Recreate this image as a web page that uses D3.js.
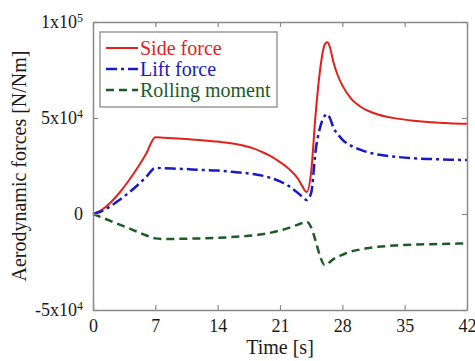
<!DOCTYPE html>
<html>
<head>
<meta charset="utf-8">
<script src="https://cdn.jsdelivr.net/npm/d3@7"></script>
<style>
  html, body { margin: 0; padding: 0; background: #fff; }
  svg { display: block; }
  svg text { font-family: "Times New Roman", "Liberation Serif", "DejaVu Serif", serif !important; }
</style>
</head>
<body>
<svg id="chart" width="475" height="361"></svg>
<script>
// Time samples [s]
const time = [0, 1, 2, 3, 4, 5, 6, 7, 8, 10, 12, 14, 16, 18, 19, 20, 21, 22, 23, 23.5, 24,
  24.5, 25, 25.5, 26, 26.3, 26.6, 27, 27.5, 28, 29, 30, 31, 32, 34, 36, 38, 40, 42];

// Side force [N]
const sideForce = [0, 2200, 6100, 11200, 17300, 24100, 31700, 40000, 39700, 39200, 38500, 37700,
  36500, 34200, 32300, 30000, 27000, 23500, 18500, 14500, 11500,
  22000, 52000, 75000, 88000, 89500, 87000, 79000, 72000, 67000, 60000, 56000, 53500, 51800,
  49800, 48600, 47800, 47300, 47000];

// Lift force [N]
const liftForce = [0, 1500, 4200, 7400, 11000, 15000, 19400, 24000, 23800, 23500, 23000, 22600,
  21800, 20800, 20000, 18700, 17000, 14500, 11000, 9000, 7300,
  11000, 33000, 45000, 51000, 52000, 50000, 45000, 41500, 38800, 35500, 33500, 32000, 31000,
  29800, 29000, 28600, 28300, 28100];

// Rolling moment [Nm]
const rollingMoment = [0, -1800, -3700, -5500, -7400, -9300, -11200, -12700, -13000, -12900, -12700,
  -12400, -11900, -11200, -10600, -9700, -8600, -7200, -5500, -4700, -4000,
  -7000, -14000, -22000, -26500, -26500, -25000, -23500, -22300, -21300, -19500, -18500, -17700,
  -17100, -16400, -16000, -15700, -15500, -15300];

const xTicks = [0, 7, 14, 21, 28, 35, 42];
const yTicks = [-50000, 0, 50000, 100000];
// Tick labels as [mantissa, exponent]
const yTickLabels = [["-5x10", "4"], ["0", ""], ["5x10", "4"], ["1x10", "5"]];

const seriesNames = ["Side force", "Lift force", "Rolling moment"];
const seriesValues = [sideForce, liftForce, rollingMoment];
const seriesColors = ["#e3201c", "#1818c8", "#1d5a26"];
const seriesDash = [null, "11,4,3,4", "8,5"];
const seriesWidth = [2, 2.5, 2.5];

const serif = "'Times New Roman', 'Liberation Serif', 'DejaVu Serif', serif";

const svg = d3.select("#chart").attr("font-family", serif);
const margin = { left: 93, right: 8, top: 22, bottom: 51 };
const W = 475, H = 361;
const x = d3.scaleLinear().domain([0, 42]).range([margin.left, W - margin.right]);
const y = d3.scaleLinear().domain([-50000, 100000]).range([H - margin.bottom, margin.top]);

const frameColor = "#8a8a8a";
const textColor = "#1a1a1a";

// Data lines
const line = d3.line()
  .x((d, i) => x(time[i]))
  .y(d => y(d))
  .curve(d3.curveMonotoneX);

seriesValues.forEach((vals, k) => {
  svg.append("path")
    .datum(vals)
    .attr("d", line)
    .attr("fill", "none")
    .attr("stroke", seriesColors[k])
    .attr("stroke-width", seriesWidth[k])
    .attr("stroke-dasharray", seriesDash[k])
    .attr("stroke-linejoin", "round");
});

// Axes: ticks point inward on all four sides
function styleAxis(g) {
  g.attr("font-family", serif).attr("font-size", 18);
  g.select(".domain").attr("stroke", frameColor).attr("stroke-width", 1.5);
  g.selectAll(".tick line").attr("stroke", frameColor).attr("stroke-width", 1.2);
  g.selectAll(".tick text").attr("fill", textColor);
}

svg.append("g")
  .attr("transform", `translate(0,${y(-50000)})`)
  .call(d3.axisBottom(x).tickValues(xTicks).tickSizeInner(-5).tickSizeOuter(0).tickPadding(9))
  .call(styleAxis);

svg.append("g")
  .attr("transform", `translate(0,${y(100000)})`)
  .call(d3.axisTop(x).tickValues(xTicks).tickSizeInner(-5).tickSizeOuter(0).tickFormat(""))
  .call(styleAxis);

const yAxis = svg.append("g")
  .attr("transform", `translate(${x(0)},0)`)
  .call(d3.axisLeft(y).tickValues(yTicks).tickSizeInner(-5).tickSizeOuter(0).tickPadding(10))
  .call(styleAxis);

// Scientific-notation tick labels with superscript exponents
yAxis.selectAll(".tick text").each(function(d) {
  const t = d3.select(this);
  const lab = yTickLabels[yTicks.indexOf(d)];
  t.text(null);
  t.append("tspan").text(lab[0]);
  if (lab[1]) {
    t.append("tspan").attr("font-size", 12).attr("dy", "-0.55em").text(lab[1]);
  }
});

svg.append("g")
  .attr("transform", `translate(${x(42)},0)`)
  .call(d3.axisRight(y).tickValues(yTicks).tickSizeInner(-5).tickSizeOuter(0).tickFormat(""))
  .call(styleAxis);

// Axis titles
svg.append("text")
  .attr("x", (x(0) + x(42)) / 2)
  .attr("y", 354)
  .attr("text-anchor", "middle")
  .attr("font-size", 20)
  .attr("fill", textColor)
  .text("Time [s]");

svg.append("text")
  .attr("transform", `translate(26,${(y(-50000) + y(100000)) / 2}) rotate(-90)`)
  .attr("text-anchor", "middle")
  .attr("font-size", 20)
  .attr("fill", textColor)
  .text("Aerodynamic forces [N/Nm]");

// Legend
const legend = svg.append("g").attr("transform", "translate(100,32)");
legend.append("rect")
  .attr("width", 177).attr("height", 75)
  .attr("fill", "#fff")
  .attr("stroke", frameColor)
  .attr("stroke-width", 1.3);

seriesNames.forEach((name, k) => {
  const cy = 16 + k * 21;
  legend.append("line")
    .attr("x1", 6).attr("x2", 38)
    .attr("y1", cy).attr("y2", cy)
    .attr("stroke", seriesColors[k])
    .attr("stroke-width", seriesWidth[k])
    .attr("stroke-dasharray", seriesDash[k]);
  legend.append("text")
    .attr("x", 40).attr("y", cy)
    .attr("dy", "0.35em")
    .attr("font-size", 20)
    .attr("fill", seriesColors[k])
    .text(name);
});
</script>
</body>
</html>
